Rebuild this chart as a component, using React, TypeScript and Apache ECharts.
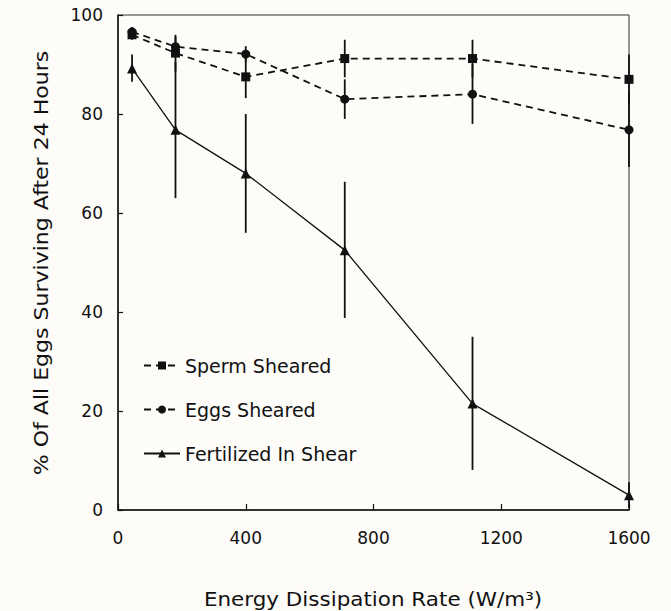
import React, { useEffect, useRef } from "react";
import * as echarts from "echarts";

const xValues = [44, 180, 400, 710, 1110, 1600];

const spermValues = [96, 92.3, 87.5, 91.2, 91.2, 87];
const spermLow = [95, 88.6, 83.2, 87.4, 87.4, 82];
const spermHigh = [97, 96, 91.8, 95, 95, 92];

const eggsValues = [96.6, 93.6, 92.1, 83, 84, 76.8];
const eggsLow = [95.6, 91.6, 90.5, 79, 78, 69.3];
const eggsHigh = [97.6, 95.6, 93.7, 87, 90, 84.3];

const fertValues = [89.2, 76.8, 68, 52.5, 21.5, 3];
const fertLow = [86.5, 63, 56, 38.8, 8.1, 0.4];
const fertHigh = [92, 90.6, 80, 66.3, 35, 5.6];

const seriesNames = ["Sperm Sheared", "Eggs Sheared", "Fertilized In Shear"];
const xTitle = "Energy Dissipation Rate (W/m³)";
const yTitle = "% Of All Eggs Surviving After 24 Hours";

const INK = "#111111";
const FONT = "'DejaVu Sans', 'Liberation Sans', sans-serif";

function pairs(vals: number[]) {
  return xValues.map((x, i) => [x, vals[i]]);
}
function bars(lo: number[], hi: number[]) {
  return xValues.map((x, i) => [x, lo[i], hi[i]]);
}

const renderBar = (params: any, api: any) => {
  const x = api.value(0);
  const p1 = api.coord([x, api.value(1)]);
  const p2 = api.coord([x, api.value(2)]);
  return {
    type: "line",
    shape: { x1: p1[0], y1: p1[1], x2: p2[0], y2: p2[1] },
    style: { stroke: INK, lineWidth: 1.8 },
  };
};

export default function App() {
  const ref = useRef<HTMLDivElement>(null);
  useEffect(() => {
    if (!ref.current) return;
    const chart = echarts.init(ref.current, undefined, { renderer: "svg" });
    chart.setOption({
      animation: false,
      backgroundColor: "#fdfcf9",
      grid: {
        left: 118,
        right: 42,
        top: 15,
        bottom: 101,
        show: true,
        borderColor: "#333",
        borderWidth: 1,
        backgroundColor: "transparent",
      },
      legend: {
        data: seriesNames,
        orient: "vertical",
        left: 138,
        top: 351,
        itemWidth: 36,
        itemHeight: 10,
        itemGap: 25,
        textStyle: { fontFamily: FONT, fontSize: 19, color: INK },
        selectedMode: false,
      },
      xAxis: {
        type: "value",
        min: 0,
        max: 1600,
        interval: 400,
        axisLine: { show: true, lineStyle: { color: INK, width: 1.5 } },
        axisTick: { show: true, inside: true, length: 6, lineStyle: { color: INK, width: 1.2 } },
        axisLabel: {
          fontFamily: FONT,
          fontSize: 17,
          color: INK,
          margin: 19,
          formatter: (v: number) => String(v),
        },
        splitLine: { show: false },
      },
      yAxis: {
        type: "value",
        min: 0,
        max: 100,
        interval: 20,
        axisLine: { show: true, lineStyle: { color: INK, width: 1.5 } },
        axisTick: { show: true, inside: true, length: 5, lineStyle: { color: INK, width: 1.2 } },
        axisLabel: {
          fontFamily: FONT,
          fontSize: 17,
          color: INK,
          margin: 15,
          formatter: (v: number) => String(v),
        },
        splitLine: { show: false },
      },
      graphic: [
        {
          type: "text",
          x: 373,
          y: 599,
          scaleX: 1.13,
          style: {
            text: xTitle,
            font: `19px ${FONT}`,
            fill: INK,
            align: "center",
            verticalAlign: "middle",
          },
        },
        {
          type: "text",
          x: 42,
          y: 263,
          rotation: Math.PI / 2,
          scaleX: 1.16,
          style: {
            text: yTitle,
            font: `19px ${FONT}`,
            fill: INK,
            align: "center",
            verticalAlign: "middle",
          },
        },
      ],
      series: [
        {
          type: "custom",
          name: "spermErr",
          renderItem: renderBar,
          data: bars(spermLow, spermHigh),
          z: 1,
        },
        {
          type: "custom",
          name: "eggsErr",
          renderItem: renderBar,
          data: bars(eggsLow, eggsHigh),
          z: 1,
        },
        {
          type: "custom",
          name: "fertErr",
          renderItem: renderBar,
          data: bars(fertLow, fertHigh),
          z: 1,
        },
        {
          type: "line",
          name: seriesNames[0],
          data: pairs(spermValues),
          symbol: "rect",
          symbolSize: 9,
          itemStyle: { color: INK },
          lineStyle: { color: INK, width: 1.8, type: [7, 5] },
          z: 3,
        },
        {
          type: "line",
          name: seriesNames[1],
          data: pairs(eggsValues),
          symbol: "circle",
          symbolSize: 9,
          itemStyle: { color: INK },
          lineStyle: { color: INK, width: 1.8, type: [7, 5] },
          z: 3,
        },
        {
          type: "line",
          name: seriesNames[2],
          data: pairs(fertValues),
          symbol: "triangle",
          symbolSize: 10,
          itemStyle: { color: INK },
          lineStyle: { color: INK, width: 1.3, type: "solid" },
          z: 3,
        },
      ],
    });
    return () => chart.dispose();
  }, []);
  return (
    <div
      ref={ref}
      style={{ position: "fixed", left: 0, top: 0, width: 671, height: 611 }}
    />
  );
}
